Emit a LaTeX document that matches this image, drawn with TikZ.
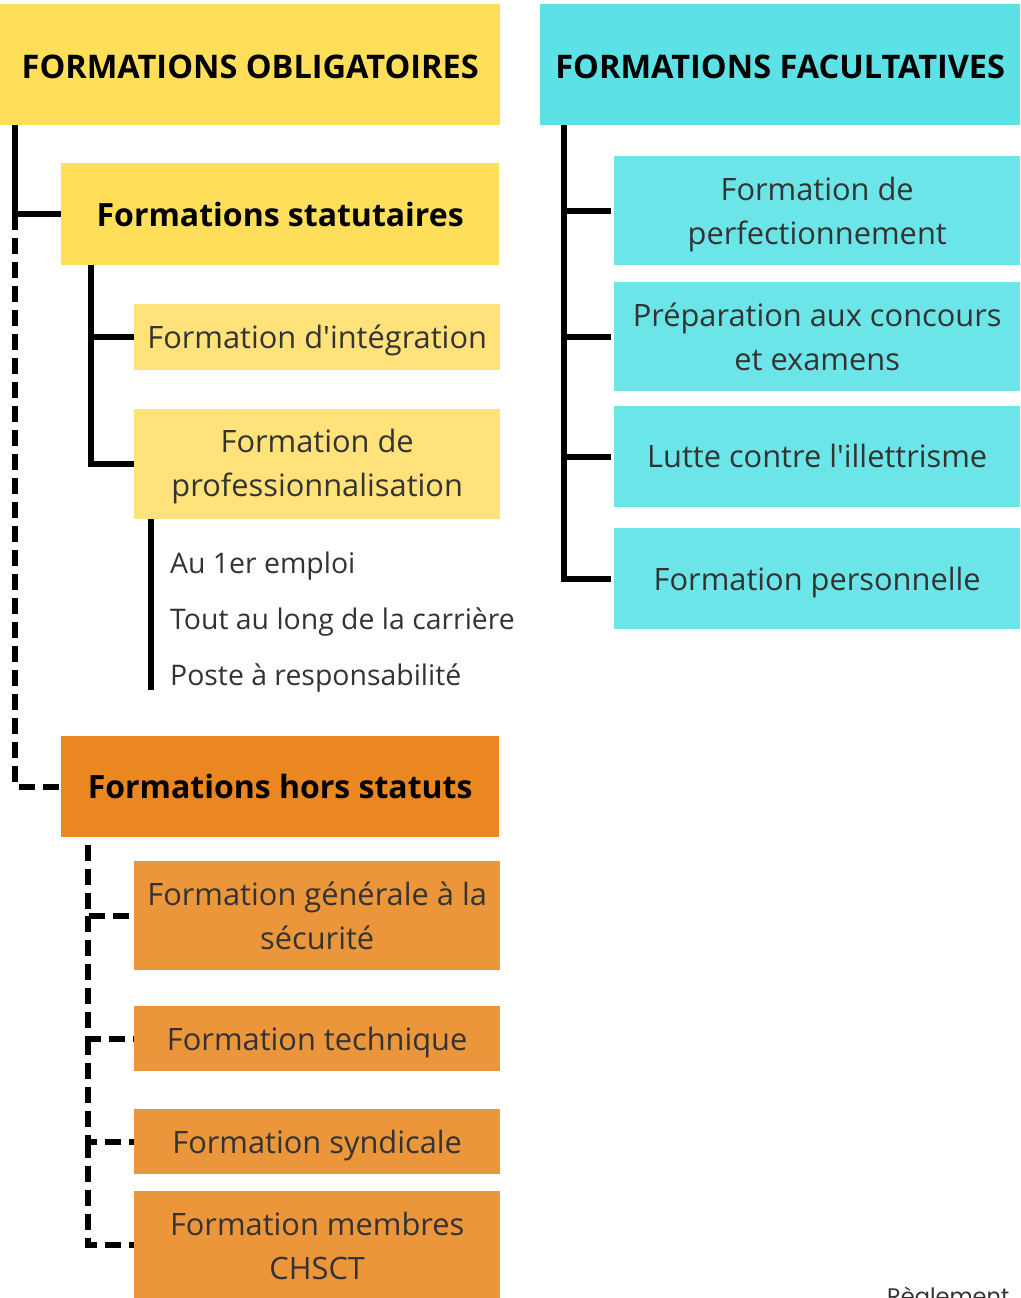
\documentclass[tikz,border=0pt]{standalone}
\usepackage{fontspec}
\setmainfont{Open Sans}[Ligatures=TeXOff]
\newfontfamily\regfont{Poppins}
\definecolor{yelH}{HTML}{FFDE59}
\definecolor{yelL}{HTML}{FFE27A}
\definecolor{cyaH}{HTML}{5CE1E6}
\definecolor{cyaL}{HTML}{6CE5E8}
\definecolor{oraH}{HTML}{EA8720}
\definecolor{oraL}{HTML}{EB963B}
\definecolor{txt}{HTML}{333333}
\newcommand\lowtxt[2]{\raisebox{-#1}[\height][\depth]{\begin{tabular}{@{}c@{}}#2\end{tabular}}}
\tikzset{
  box/.style={draw=none, inner sep=0pt, anchor=north west, align=center, text=txt, font=\fontsize{30.8}{44}\selectfont},
  hbox/.style={box, text=black, font=\fontsize{32}{38}\bfseries},
  capbox/.style={hbox, font=\fontsize{32.5}{38}\bfseries},
  conn/.style={line width=6pt, black},
  dconn/.style={conn, dash pattern=on 16pt off 8pt},
  item/.style={anchor=base west, inner sep=0pt, text=txt, font=\fontsize{28.4}{32}\selectfont}
}
\begin{document}
\begin{tikzpicture}[x=1pt,y=-1pt]
\useasboundingbox (0,0) rectangle (1020,1298);
% headers
\node[capbox, fill=yelH, minimum width=500pt, minimum height=121pt] (oblig) at (0,4) {\lowtxt{6pt}{FORMATIONS OBLIGATOIRES}};
\node[capbox, fill=cyaH, minimum width=480pt, minimum height=121pt] (facu) at (540,4) {\lowtxt{6pt}{FORMATIONS FACULTATIVES}};
% left branch
\node[hbox, fill=yelH, minimum width=438pt, minimum height=102pt] (stat) at (61,163) {Formations statutaires};
\node[box, fill=yelL, minimum width=366pt, minimum height=66pt] (integ) at (134,304) {\lowtxt{2pt}{Formation d'intégration}};
\node[box, fill=yelL, minimum width=366pt, minimum height=110pt] (prof) at (134,409) {\lowtxt{1pt}{Formation de\\professionnalisation}};
\node[item] (i1) at (170,573) {Au 1er emploi};
\node[item] (i2) at (170,629) {Tout au long de la carrière};
\node[item] (i3) at (170,685) {Poste à responsabilité};
\node[hbox, fill=oraH, minimum width=438pt, minimum height=101pt] (hors) at (61,736) {Formations hors statuts};
\node[box, fill=oraL, minimum width=366pt, minimum height=109pt] (gen) at (134,861) {\lowtxt{3pt}{Formation générale à la\\sécurité}};
\node[box, fill=oraL, minimum width=366pt, minimum height=65pt] (tech) at (134,1006) {\lowtxt{3pt}{Formation technique}};
\node[box, fill=oraL, minimum width=366pt, minimum height=65pt] (synd) at (134,1109) {\lowtxt{3pt}{Formation syndicale}};
\node[box, fill=oraL, minimum width=366pt, minimum height=107pt] (chs) at (134,1191) {\lowtxt{4pt}{Formation membres\\CHSCT}};
% right branch
\node[box, fill=cyaL, minimum width=406pt, minimum height=109pt] (perf) at (614,156) {\lowtxt{3pt}{Formation de\\perfectionnement}};
\node[box, fill=cyaL, minimum width=406pt, minimum height=109pt] (conc) at (614,282) {\lowtxt{3pt}{Préparation aux concours\\et examens}};
\node[box, fill=cyaL, minimum width=406pt, minimum height=101pt] (ill) at (614,406) {\lowtxt{2pt}{Lutte contre l'illettrisme}};
\node[box, fill=cyaL, minimum width=406pt, minimum height=101pt] (pers) at (614,528) {\lowtxt{3pt}{Formation personnelle}};
\node[anchor=base west, inner sep=0pt, text=txt, font=\regfont\fontsize{22.5}{26}\selectfont] (regl) at (887,1304) {Règlement};
% connectors
\coordinate (t1) at (15,125);
\draw[conn] (t1) |- (stat.west);
\draw[dconn] (t1 |- stat.west) |- (hors.west);
\coordinate (t2) at (91,265);
\draw[conn] (t2) |- (integ.west);
\draw[conn] (t2 |- integ.west) |- (prof.west);
\coordinate (t3) at (151,519);
\coordinate (t3e) at (151,690);
\draw[conn] (t3) -- (t3e);
\coordinate (t4) at (88,845);
\draw[dconn] (t4) |- (gen.west);
\draw[dconn] (t4 |- gen.west) |- (tech.west);
\draw[dconn] (t4 |- tech.west) |- (synd.west);
\draw[dconn] (t4 |- synd.west) |- (chs.west);
\coordinate (t5) at (564,125);
\draw[conn, shorten >=3pt] (t5) |- (perf.west);
\draw[conn, shorten >=3pt] (t5 |- perf.west) |- (conc.west);
\draw[conn, shorten >=3pt] (t5 |- conc.west) |- (ill.west);
\draw[conn, shorten >=3pt] (t5 |- ill.west) |- (pers.west);
\end{tikzpicture}
\end{document}
